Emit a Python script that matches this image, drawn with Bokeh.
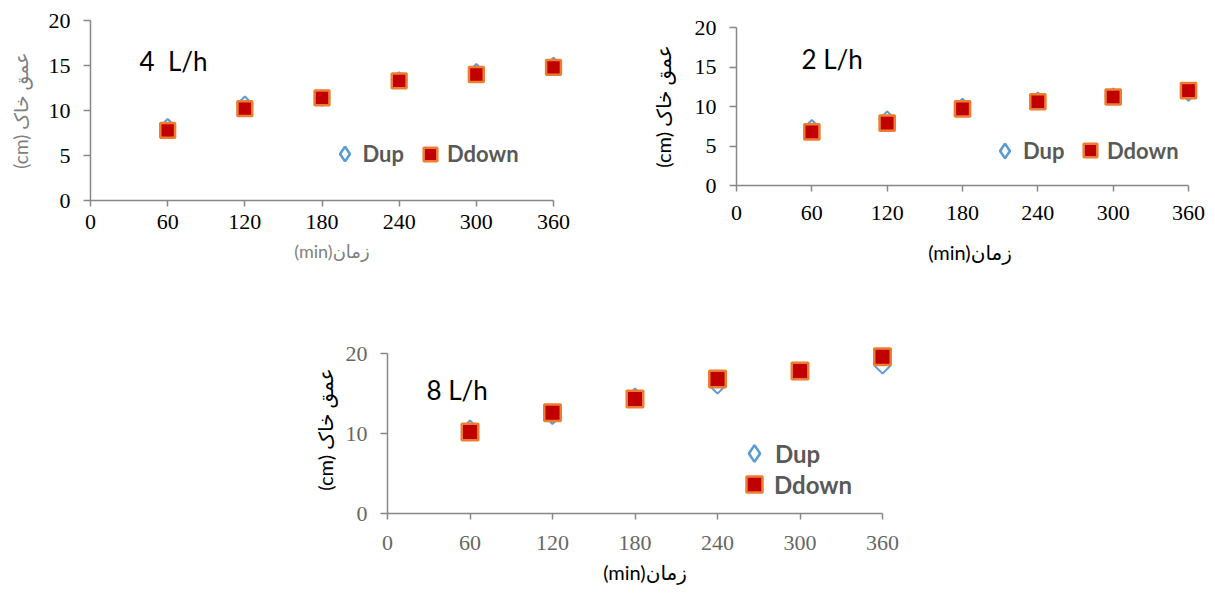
import math
from bokeh.plotting import figure
from bokeh.layouts import column, row
from bokeh.models import (ColumnDataSource, Range1d, FixedTicker, Legend,
                          LegendItem, Label, Spacer)
from bokeh.embed import file_html
from bokeh.resources import INLINE

# ---------------- data ----------------
time_min = [60, 120, 180, 240, 300, 360]
dup_4lh = [8.2, 10.7, 11.4, 13.4, 14.3, 15.0]
ddown_4lh = [7.8, 10.2, 11.4, 13.3, 14.0, 14.8]
dup_2lh = [7.3, 8.4, 10.0, 10.8, 11.3, 11.7]
ddown_2lh = [6.8, 7.9, 9.7, 10.6, 11.2, 12.0]
dup_8lh = [10.6, 12.2, 14.6, 16.0, 17.8, 18.5]
ddown_8lh = [10.2, 12.6, 14.3, 16.8, 17.8, 19.6]
x_ticks = [0, 60, 120, 180, 240, 300, 360]
y_ticks_a = [0, 5, 10, 15, 20]
y_ticks_b = [0, 10, 20]
series_names = ["Dup", "Ddown"]
panel_titles = ["4\u00a0 L/h", "2 L/h", "8 L/h"]
x_title = "(min)زمان"
y_title = "(cm) عمق خاک"

BLUE = "#5B9BD5"
ORANGE = "#ED7D31"
RED = "#C00000"
AXIS = "#878787"
LEG_TXT = "#595959"


def build(ox, oy, W, H, fl, ft, fw, fh, er, et, ymax, yticks, dup, ddown,
          tick_color, x_std, ax_color, xsize, ysize, xlab_std, ylab_std,
          dsz, ssz, title, tpos, legs, leg_font):
    x_end = 360 * (fw + er) / fw
    y_end = ymax * (fh + et) / fh
    bl = fl - ox
    bt = ft - et - oy
    br = W - bl - fw - er
    bb = H - (ft - oy) - fh
    p = figure(width=W, height=H, x_range=Range1d(0, x_end),
               y_range=Range1d(0, y_end), output_backend="svg",
               toolbar_location=None, min_border_left=bl,
               min_border_right=br, min_border_top=bt,
               min_border_bottom=bb, background_fill_color="white",
               border_fill_color="white", frame_align=False)
    p.outline_line_color = None
    p.xgrid.visible = False
    p.ygrid.visible = False

    for ax in (p.xaxis[0], p.yaxis[0]):
        ax.axis_line_color = AXIS
        ax.axis_line_width = 1.5
        ax.major_tick_line_color = AXIS
        ax.major_tick_line_width = 1.5
        ax.minor_tick_line_color = None
        ax.major_tick_in = 0
        ax.major_label_text_font = "Liberation Serif"
        ax.major_label_text_font_size = "22px"
        ax.major_label_text_color = tick_color
        ax.axis_label_text_font = "Lato, DejaVu Sans"
        ax.axis_label_text_font_style = "normal"
        ax.axis_label_text_color = ax_color

    xa = p.xaxis[0]
    xa.ticker = FixedTicker(ticks=x_ticks)
    xa.bounds = (0, 360)
    xa.major_tick_out = 6
    xa.major_label_standoff = x_std
    xa.axis_label = x_title
    xa.axis_label_standoff = xlab_std
    xa.axis_label_text_font_size = xsize

    ya = p.yaxis[0]
    ya.ticker = FixedTicker(ticks=yticks)
    ya.bounds = (0, ymax)
    ya.major_tick_out = 7
    ya.major_label_standoff = 13
    ya.axis_label = y_title
    ya.axis_label_standoff = ylab_std
    ya.axis_label_text_font_size = ysize

    src = ColumnDataSource(dict(t=time_min, dup=dup, ddown=ddown))
    p.scatter("t", "dup", source=src, marker="square",
              angle=math.pi / 4, size=dsz, fill_color=None,
              line_color=BLUE, line_width=2)
    r_dd = p.scatter("t", "ddown", source=src, marker="square", size=ssz,
                     fill_color=RED, line_color=ORANGE, line_width=2.5)
    # legend symbol for the diamond series (legend glyphs are never rotated)
    r_leg = p.scatter("t", "dup", source=src, marker="diamond", size=dsz,
                      fill_color=None, line_color=BLUE, line_width=2.6,
                      visible=False)
    rends = [r_leg, r_dd]

    fb = ft + fh  # frame bottom in page coords
    for i, (cx, cy, gsz, std) in enumerate(legs):
        lx = cx - fl - gsz / 2
        ly = (fb - cy) - gsz / 2
        lg = Legend(items=[LegendItem(label=series_names[i], renderers=[rends[i]])],
                    location=(lx, ly), glyph_width=gsz, glyph_height=gsz,
                    label_standoff=std, padding=0, margin=0, spacing=0,
                    border_line_color=None, background_fill_alpha=0,
                    inactive_fill_alpha=0,
                    label_text_font="Lato", label_text_font_style="bold",
                    label_text_font_size=leg_font,
                    label_text_color=LEG_TXT)
        p.add_layout(lg)

    p.add_layout(Label(x=tpos[0] - fl, y=fb - tpos[1], x_units="screen",
                       y_units="screen", text=title, text_font="Lato",
                       text_font_size="26px", text_baseline="alphabetic",
                       text_color="black"))
    return p


p1 = build(0, 0, 628, 278, 90, 20, 463, 180, 20, 0, 20, y_ticks_a,
           dup_4lh, ddown_4lh, "black", 8, "#7f7f7f", "18px", "19px", 8, 14,
           11, 14.8, panel_titles[0], (139, 60),
           [(344, 153.7, 37, 0), (430, 153.7, 34, 0)], "22px")

p2 = build(628, 0, 587, 278, 736, 27, 452, 158, 15, 0, 20, y_ticks_a,
           dup_2lh, ddown_2lh, "black", 14, "black", "20px", "20px", 17, 17,
           11, 15.2, panel_titles[1], (801, 58),
           [(1004.5, 150, 37, 0), (1090, 150, 34, 0)], "22px")

p3 = build(308, 278, 620, 315, 387, 353, 495, 160, 20, 8, 20, y_ticks_b,
           dup_8lh, ddown_8lh, "#666666", 16, "black", "20px", "20px", 7, 6,
           11.5, 16.5, panel_titles[2], (426, 389),
           [(754, 453, 42, 0), (754, 484, 40, 0)], "24px")

layout = column(row(p1, p2), row(Spacer(width=308, height=315), p3))

open("out.html", "w").write(file_html(layout, INLINE))
